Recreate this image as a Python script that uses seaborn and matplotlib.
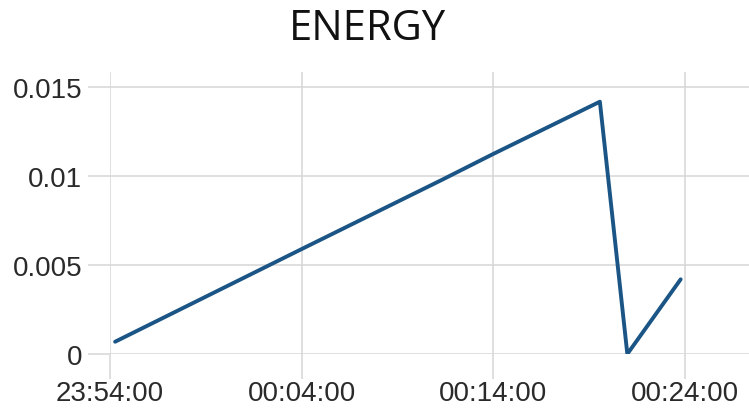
import pandas as pd
import matplotlib
matplotlib.use("Agg")
import matplotlib.pyplot as plt
import matplotlib.dates as mdates
import seaborn as sns

# Valeurs
temps = ["2024-01-01 23:54:16", "2024-01-02 00:04:00", "2024-01-02 00:11:20",
         "2024-01-02 00:14:00", "2024-01-02 00:19:34", "2024-01-02 00:21:00",
         "2024-01-02 00:23:47"]
energie = [0.00069, 0.0059, 0.0098, 0.01125, 0.01419, 0.0, 0.0042]

graduations_x = ["2024-01-01 23:54:00", "2024-01-02 00:04:00",
                 "2024-01-02 00:14:00", "2024-01-02 00:24:00"]
graduations_y = [0, 0.005, 0.01, 0.015]
etiquettes_y = ["0", "0.005", "0.01", "0.015"]

data = pd.DataFrame({"temps": pd.to_datetime(temps), "energie": energie})

sns.set_theme(style="white")
plt.rcParams["font.family"] = ["Liberation Sans", "DejaVu Sans"]

fig = plt.figure(figsize=(7.49, 4.14), dpi=100)
ax = fig.add_axes([110 / 749, 59 / 414, 1 - 110 / 749, 282 / 414])

sns.lineplot(data=data, x="temps", y="energie", ax=ax,
             color="#1a5586", linewidth=2.8)

ax.set_xlim(pd.Timestamp("2024-01-01 23:54:00"), pd.Timestamp("2024-01-02 00:27:21"))
ax.set_ylim(0, 0.01586)

ax.set_xticks(pd.to_datetime(graduations_x))
ax.xaxis.set_major_formatter(mdates.DateFormatter("%H:%M:%S"))
ax.set_yticks(graduations_y)
ax.set_yticklabels(etiquettes_y)

ax.grid(True, color="#d6d6d6", linewidth=1.1)
for s in ax.spines.values():
    s.set_visible(False)
ax.tick_params(axis="x", length=18, width=1.1, color="#d6d6d6", pad=1,
               labelsize=20, labelcolor="#2a2a2a")
ax.tick_params(axis="y", length=16, width=1.1, color="#d6d6d6", pad=4,
               labelsize=20, labelcolor="#2a2a2a")
ax.tick_params(bottom=True, left=True)
ax.set_xlabel("")
ax.set_ylabel("")

fig.text(367 / 749, 1 - 29 / 414, "ENERGY", ha="center", va="center",
         fontsize=30, fontweight="medium", family=["Open Sans", "DejaVu Sans"],
         color="#111111")

fig.savefig("out.png", dpi=100, facecolor="white")
